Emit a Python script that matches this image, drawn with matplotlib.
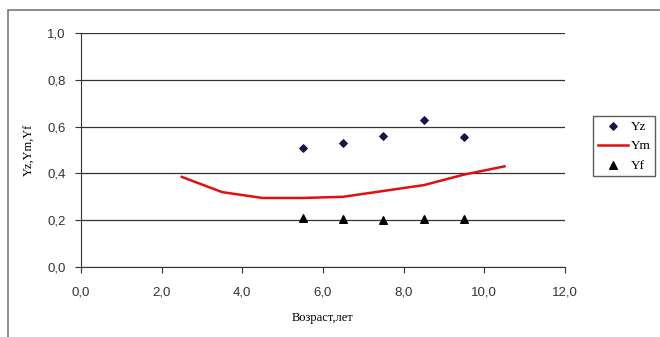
import numpy as np
import matplotlib.pyplot as plt
from matplotlib.ticker import FuncFormatter
from matplotlib.patches import Rectangle

# age groups (years) and the three indices
age = [5.5, 6.5, 7.5, 8.5, 9.5]
yz = [0.51, 0.53, 0.56, 0.63, 0.555]
yf = [0.21, 0.205, 0.20, 0.205, 0.205]

age_m = [2.5, 3.5, 4.5, 5.5, 6.5, 7.5, 8.5, 9.5, 10.5]
ym = [0.385, 0.32, 0.295, 0.295, 0.30, 0.325, 0.35, 0.395, 0.43]

fig = plt.figure(figsize=(6.6, 3.37), dpi=100)
ax = fig.add_axes([81/660, 1-267/337, 484/660, 234/337])

# outer chart frame
fig.patches.append(Rectangle((8/660, -0.01), 0.995, 1-10/337+0.01, transform=fig.transFigure,
                             fill=False, edgecolor='#7a7a70', lw=1.2))

ax.scatter(age, yz, marker='D', s=14, color='#1a1050', zorder=3, label='Yz')
ax.plot(age_m, ym, color='#e01010', lw=1.8, zorder=2, label='Ym')
ax.scatter(age, yf, marker='^', s=30, color='black', zorder=3, label='Yf')

ax.set_xlim(0, 12)
ax.set_ylim(0, 1.0)
ax.set_xticks(np.arange(0, 12.1, 2))
ax.set_yticks(np.arange(0, 1.01, 0.2))
comma = FuncFormatter(lambda v, p: ('%.1f' % v).replace('.', ','))
ax.xaxis.set_major_formatter(comma)
ax.yaxis.set_major_formatter(comma)
ax.yaxis.grid(True, color='#333333', lw=0.9)
ax.set_axisbelow(True)
for s in ['top', 'right']:
    ax.spines[s].set_visible(False)
ax.spines['left'].set_color('#333333')
ax.spines['bottom'].set_color('#333333')
ax.tick_params(direction='out', length=4, color='#333333', labelsize=9.5, labelcolor='#333333', pad=7)
ax.tick_params(axis='x', pad=10)
for t in ax.get_xticklabels() + ax.get_yticklabels():
    t.set_family('Liberation Sans')

ax.set_xlabel('Возраст,лет', family='Liberation Serif', fontsize=9, labelpad=10)
ax.set_ylabel('Yz,Ym,Yf', family='Liberation Serif', fontsize=9, labelpad=8)

leg = ax.legend(loc='upper left', bbox_to_anchor=(593/660, 1-116/337), bbox_transform=fig.transFigure,
                frameon=True, fancybox=False, edgecolor='#333333', prop={'family': 'Liberation Serif', 'size': 9.5},
                handlelength=2.3, handletextpad=0.2, borderpad=0.35, labelspacing=0.55, borderaxespad=0)
leg.get_frame().set_linewidth(1.0)

fig.savefig('out.png', dpi=100)
